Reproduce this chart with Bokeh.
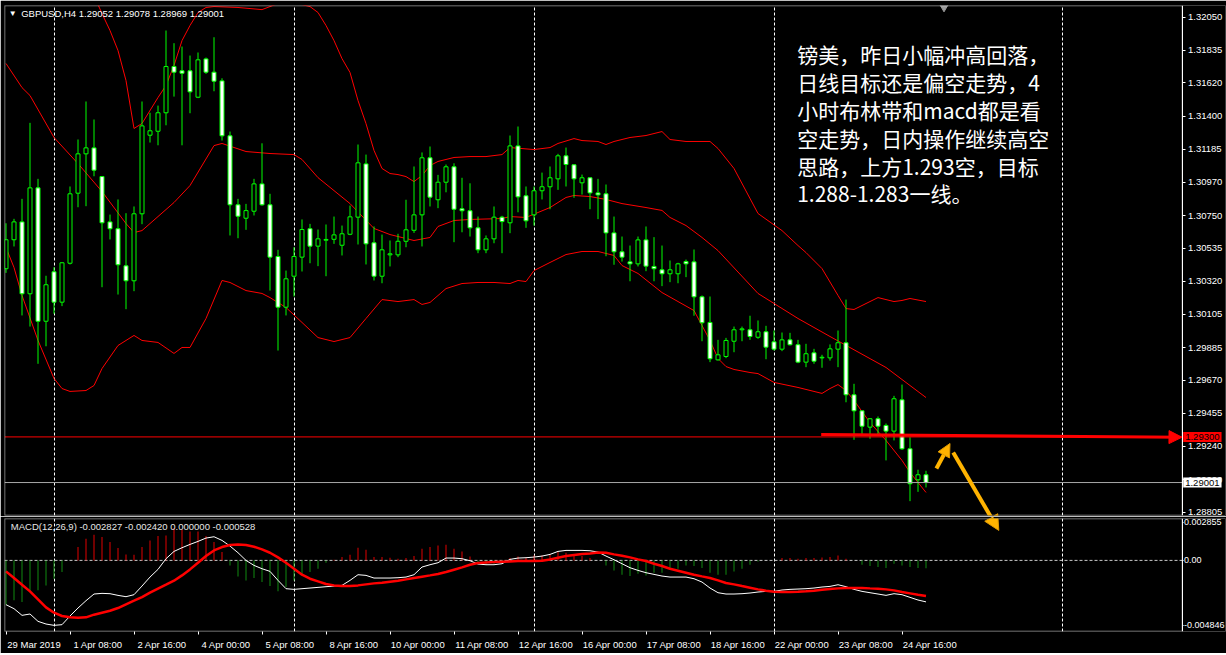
import numpy as np
from bokeh.plotting import figure
from bokeh.layouts import column
from bokeh.models import (Range1d, FixedTicker, PrintfTickFormatter, Label, BoxAnnotation,
                          Arrow, NormalHead, Grid)
from bokeh.core.properties import value
from bokeh.embed import file_html
from bokeh.resources import INLINE

# ---------------- data (GBPUSD H4, bar 0 = 29 Mar 2019 00:00) ----------------
bar_open = [1.30402, 1.30592, 1.30709, 1.30238, 1.30932, 1.30058, 1.30382, 1.30183, 1.30438, 1.30897,
            1.31155, 1.31194, 1.31006, 1.30709, 1.30664, 1.30421, 1.30323, 1.30762, 1.31277, 1.31303,
            1.31424, 1.31727, 1.31699, 1.31699, 1.31526, 1.31777, 1.31690, 1.31633, 1.31273, 1.30821,
            1.30733, 1.30779, 1.30958, 1.30821, 1.30482, 1.30150, 1.30353, 1.30478, 1.30664, 1.30550,
            1.30589, 1.30595, 1.30556, 1.30628, 1.30740, 1.31089, 1.30572, 1.30353, 1.30493, 1.30493,
            1.30582, 1.30654, 1.30755, 1.31129, 1.30854, 1.30969, 1.31070, 1.30795, 1.30782, 1.30670,
            1.30526, 1.30598, 1.30740, 1.30703, 1.31207, 1.30880, 1.30755, 1.30913, 1.30939, 1.30991,
            1.31142, 1.31083, 1.30965, 1.30998, 1.30899, 1.30893, 1.30637, 1.30513, 1.30447, 1.30434,
            1.30591, 1.30417, 1.30395, 1.30369, 1.30369, 1.30449, 1.30447, 1.30218, 1.30050, 1.29805,
            1.29827, 1.29927, 1.30002, 1.30002, 1.29953, 1.29989, 1.29923, 1.29875, 1.29936, 1.29904,
            1.29790, 1.29851, 1.29818, 1.29818, 1.29875, 1.29917, 1.29576, 1.29471, 1.29364, 1.29419,
            1.29375, 1.29338, 1.29543, 1.29222, 1.29019, 1.29052]
bar_high = [1.30700, 1.30729, 1.30860, 1.31358, 1.30991, 1.30356, 1.30412, 1.30445, 1.30941, 1.31249,
            1.31498, 1.31380, 1.31010, 1.30757, 1.30856, 1.30766, 1.30810, 1.31498, 1.31424, 1.31471,
            1.31963, 1.31880, 1.31858, 1.31799, 1.31819, 1.31786, 1.31919, 1.31650, 1.31301, 1.30860,
            1.30827, 1.30991, 1.31224, 1.30893, 1.30526, 1.30390, 1.30543, 1.30725, 1.30696, 1.30659,
            1.30692, 1.30744, 1.30685, 1.30816, 1.31216, 1.31150, 1.30679, 1.30626, 1.30587, 1.30631,
            1.30854, 1.31072, 1.31164, 1.31203, 1.31017, 1.31085, 1.31093, 1.30998, 1.30962, 1.30744,
            1.30620, 1.30810, 1.30749, 1.31275, 1.31334, 1.30941, 1.30941, 1.31032, 1.31072, 1.31155,
            1.31196, 1.31085, 1.31019, 1.31000, 1.30991, 1.30954, 1.30744, 1.30613, 1.30554, 1.30613,
            1.30679, 1.30609, 1.30554, 1.30456, 1.30441, 1.30462, 1.30528, 1.30227, 1.30220, 1.29936,
            1.29949, 1.30023, 1.30023, 1.30094, 1.30063, 1.30028, 1.29997, 1.29984, 1.29982, 1.29936,
            1.29910, 1.29877, 1.29838, 1.29906, 1.29997, 1.30200, 1.29648, 1.29473, 1.29421, 1.29434,
            1.29388, 1.29569, 1.29643, 1.29298, 1.29085, 1.29078]
bar_low = [1.30375, 1.30548, 1.30096, 1.30023, 1.29779, 1.29894, 1.30107, 1.30157, 1.30430, 1.30805,
           1.30812, 1.31008, 1.30281, 1.30594, 1.30233, 1.30137, 1.30255, 1.30694, 1.31229, 1.31211,
           1.31342, 1.31530, 1.31211, 1.31421, 1.31520, 1.31679, 1.31565, 1.31242, 1.30620, 1.30602,
           1.30657, 1.30751, 1.30815, 1.30259, 1.29866, 1.30096, 1.30220, 1.30384, 1.30438, 1.30419,
           1.30353, 1.30565, 1.30489, 1.30622, 1.30561, 1.30430, 1.30325, 1.30307, 1.30417, 1.30478,
           1.30543, 1.30637, 1.30548, 1.30810, 1.30799, 1.30903, 1.30576, 1.30641, 1.30613, 1.30504,
           1.30504, 1.30569, 1.30504, 1.30635, 1.30772, 1.30670, 1.30685, 1.30856, 1.30792, 1.30919,
           1.30941, 1.30867, 1.30888, 1.30792, 1.30727, 1.30484, 1.30428, 1.30449, 1.30320, 1.30417,
           1.30386, 1.30320, 1.30288, 1.30314, 1.30307, 1.30347, 1.30094, 1.29927, 1.29790, 1.29800,
           1.29816, 1.29855, 1.29927, 1.29936, 1.29943, 1.29809, 1.29866, 1.29862, 1.29899, 1.29783,
           1.29757, 1.29779, 1.29753, 1.29800, 1.29757, 1.29527, 1.29281, 1.29320, 1.29288, 1.29307,
           1.29146, 1.29277, 1.29215, 1.28879, 1.28940, 1.28969]
bar_close = [1.30592, 1.30709, 1.30238, 1.30932, 1.30058, 1.30297, 1.30183, 1.30441, 1.30893, 1.31155,
             1.31194, 1.31048, 1.30703, 1.30664, 1.30428, 1.30323, 1.30762, 1.31338, 1.31306, 1.31424,
             1.31727, 1.31690, 1.31683, 1.31561, 1.31771, 1.31690, 1.31631, 1.31273, 1.30821, 1.30746,
             1.30783, 1.30958, 1.30821, 1.30478, 1.30150, 1.30336, 1.30482, 1.30659, 1.30550, 1.30598,
             1.30594, 1.30624, 1.30631, 1.30742, 1.31096, 1.30565, 1.30353, 1.30526, 1.30500, 1.30582,
             1.30657, 1.30755, 1.31129, 1.30871, 1.30969, 1.31070, 1.30792, 1.30782, 1.30670, 1.30526,
             1.30598, 1.30740, 1.30711, 1.31207, 1.30873, 1.30716, 1.30913, 1.30939, 1.30998, 1.31142,
             1.31085, 1.30991, 1.30998, 1.30899, 1.30886, 1.30637, 1.30513, 1.30478, 1.30434, 1.30591,
             1.30419, 1.30402, 1.30369, 1.30395, 1.30434, 1.30434, 1.30218, 1.30048, 1.29812, 1.29838,
             1.29932, 1.30002, 1.30008, 1.29958, 1.29989, 1.29888, 1.29875, 1.29936, 1.29904, 1.29790,
             1.29845, 1.29796, 1.29822, 1.29877, 1.29917, 1.29576, 1.29471, 1.29370, 1.29419, 1.29370,
             1.29338, 1.29550, 1.29222, 1.28993, 1.29052, 1.29001]

# Bollinger bands (bar index, price), read where the red curves are visible
bb_upper_x = [0, 6, 9, 11, 12, 13, 14, 15, 16, 17, 19, 20, 21, 22, 23, 24, 25, 26, 29, 32,
              34, 36, 37, 38, 39, 40, 41, 42, 43, 44, 45, 46, 47, 48, 49, 50, 51, 52, 53, 54,
              56, 58, 60, 62, 63, 66, 68, 69, 71, 72, 74, 75, 76, 78, 80, 82, 83, 85, 88, 89,
              91, 94, 97, 99, 100, 102, 104, 105, 106, 107, 109, 111, 112, 113, 115]
bb_upper_y = [1.32952, 1.32828, 1.32579, 1.32192, 1.32074, 1.31963, 1.31832, 1.31635, 1.31321, 1.31354,
              1.31524, 1.31603, 1.31734, 1.31897, 1.31996, 1.32081, 1.32114, 1.32120, 1.32114, 1.32100,
              1.32140, 1.32153, 1.32133, 1.32120, 1.32081, 1.31996, 1.31897, 1.31779, 1.31688, 1.31504,
              1.31353, 1.31177, 1.31059, 1.31026, 1.31019, 1.31006, 1.30973, 1.31013, 1.31078, 1.31105,
              1.31131, 1.31137, 1.31137, 1.31150, 1.31196, 1.31183, 1.31196, 1.31223, 1.31255, 1.31242,
              1.31236, 1.31216, 1.31236, 1.31262, 1.31275, 1.31301, 1.31249, 1.31236, 1.31236, 1.31190,
              1.31059, 1.30764, 1.30652, 1.30554, 1.30508, 1.30403, 1.30227, 1.30141, 1.30135, 1.30161,
              1.30213, 1.30187, 1.30194, 1.30207, 1.30187]
bb_mid_x = [0, 2, 3, 6, 9, 12, 15, 16, 17, 21, 23, 26, 27, 30, 33, 36, 37, 39, 43, 46,
            48, 51, 53, 54, 56, 58, 62, 63, 65, 68, 70, 71, 73, 75, 77, 80, 82, 83, 85, 87,
            89, 94, 99, 103, 110, 115]
bb_mid_y = [1.31747, 1.31589, 1.31537, 1.31262, 1.31091, 1.30908, 1.30698, 1.30639, 1.30652, 1.30836,
            1.30947, 1.31209, 1.31223, 1.31170, 1.31157, 1.31150, 1.31118, 1.30999, 1.30829, 1.30666,
            1.30626, 1.30587, 1.30607, 1.30679, 1.30718, 1.30725, 1.30731, 1.30744, 1.30738, 1.30803,
            1.30869, 1.30882, 1.30875, 1.30856, 1.30829, 1.30803, 1.30784, 1.30738, 1.30685, 1.30607,
            1.30521, 1.30240, 1.30076, 1.29958, 1.29755, 1.29558]
bb_lower_x = [0, 1, 2, 4, 6, 7, 8, 10, 11, 12, 14, 16, 17, 19, 21, 22, 23, 25, 27, 28,
              30, 32, 33, 35, 37, 39, 41, 43, 45, 47, 49, 51, 52, 53, 55, 57, 59, 61, 63, 64,
              65, 66, 68, 70, 72, 74, 76, 77, 79, 82, 84, 86, 87, 88, 89, 90, 91, 93, 94, 96,
              99, 102, 103, 104, 105, 106, 108, 110, 112, 113, 115]
bb_lower_y = [1.30541, 1.30410, 1.30227, 1.29932, 1.29683, 1.29617, 1.29598, 1.29604, 1.29637, 1.29748,
              1.29899, 1.29965, 1.29932, 1.29919, 1.29847, 1.29886, 1.29886, 1.30076, 1.30325, 1.30312,
              1.30259, 1.30240, 1.30213, 1.30148, 1.30050, 1.29951, 1.29925, 1.29951, 1.30076, 1.30200,
              1.30187, 1.30200, 1.30168, 1.30181, 1.30272, 1.30305, 1.30312, 1.30312, 1.30305, 1.30325,
              1.30318, 1.30390, 1.30443, 1.30495, 1.30515, 1.30515, 1.30489, 1.30423, 1.30371, 1.30246,
              1.30187, 1.30128, 1.30030, 1.29932, 1.29814, 1.29761, 1.29742, 1.29722, 1.29715, 1.29657,
              1.29624, 1.29585, 1.29617, 1.29643, 1.29604, 1.29539, 1.29394, 1.29277, 1.29146, 1.29067,
              1.28936]

# MACD(12,26,9) pane
macd_line = [-0.003018, -0.003291, -0.003746, -0.003654, -0.004154, -0.004336, -0.004427, -0.004381, -0.003790, -0.003246,
             -0.002747, -0.002292, -0.002247, -0.002270, -0.002384, -0.002474, -0.002338, -0.001748, -0.001135, -0.000613,
             0.000114, 0.000613, 0.000862, 0.001090, 0.001294, 0.001521, 0.001612, 0.001362, 0.000976, 0.000522,
             0.000000, -0.000341, -0.000568, -0.000749, -0.001362, -0.001929, -0.001975, -0.001929, -0.001884, -0.001839,
             -0.001793, -0.001748, -0.001703, -0.001362, -0.000976, -0.001022, -0.001203, -0.001203, -0.001203, -0.001180,
             -0.001135, -0.000976, -0.000454, -0.000295, -0.000159, 0.000159, 0.000159, 0.000114, -0.000023, -0.000250,
             -0.000295, -0.000295, -0.000227, 0.000068, 0.000159, 0.000182, 0.000227, 0.000295, 0.000409, 0.000613,
             0.000681, 0.000681, 0.000681, 0.000658, 0.000568, 0.000295, 0.000045, -0.000227, -0.000500, -0.000681,
             -0.000840, -0.000953, -0.001067, -0.001135, -0.001135, -0.001135, -0.001249, -0.001476, -0.001884, -0.002202,
             -0.002292, -0.002292, -0.002270, -0.002224, -0.002156, -0.002111, -0.002111, -0.002020, -0.001975, -0.001952,
             -0.001929, -0.001884, -0.001815, -0.001771, -0.001658, -0.001793, -0.001975, -0.002111, -0.002202, -0.002292,
             -0.002384, -0.002270, -0.002338, -0.002520, -0.002701, -0.002827]
macd_signal = [-0.000749, -0.001203, -0.001658, -0.002111, -0.002656, -0.003201, -0.003564, -0.003790, -0.003882, -0.003904,
               -0.003882, -0.003700, -0.003564, -0.003428, -0.003246, -0.002996, -0.002747, -0.002497, -0.002202, -0.001929,
               -0.001658, -0.001385, -0.001022, -0.000613, -0.000159, 0.000295, 0.000681, 0.000908, 0.001044, 0.001090,
               0.001044, 0.000930, 0.000749, 0.000522, 0.000204, -0.000159, -0.000568, -0.000976, -0.001249, -0.001430,
               -0.001612, -0.001703, -0.001748, -0.001748, -0.001703, -0.001634, -0.001566, -0.001521, -0.001453, -0.001385,
               -0.001294, -0.001203, -0.001113, -0.001022, -0.000930, -0.000794, -0.000636, -0.000477, -0.000295, -0.000182,
               -0.000136, -0.000114, -0.000091, -0.000068, -0.000045, -0.000045, -0.000045, -0.000023, 0.000068, 0.000182,
               0.000295, 0.000363, 0.000431, 0.000477, 0.000545, 0.000522, 0.000409, 0.000318, 0.000204, 0.000068,
               -0.000045, -0.000227, -0.000386, -0.000568, -0.000704, -0.000840, -0.000976, -0.001090, -0.001203, -0.001362,
               -0.001544, -0.001634, -0.001748, -0.001861, -0.001975, -0.002066, -0.002134, -0.002156, -0.002156, -0.002134,
               -0.002111, -0.002066, -0.001997, -0.001952, -0.001907, -0.001884, -0.001884, -0.001884, -0.001907, -0.001929,
               -0.001975, -0.002043, -0.002156, -0.002247, -0.002338, -0.002420]
macd_hist = [-0.003018, -0.002724, -0.002837, -0.002156, -0.002043, -0.001703, -0.001249, -0.000794, 0.000000, 0.000908,
             0.001476, 0.001748, 0.001589, 0.001249, 0.000840, 0.000409, 0.000386, 0.000908, 0.001362, 0.001658,
             0.001703, 0.002202, 0.002111, 0.001975, 0.001975, 0.001658, 0.001249, 0.000568, -0.000341, -0.001090,
             -0.001362, -0.001203, -0.001476, -0.001748, -0.002111, -0.001815, -0.001362, -0.001022, -0.000794, -0.000568,
             -0.000159, 0.000045, 0.000227, 0.000386, 0.000862, 0.000727, 0.000227, 0.000227, 0.000182, 0.000114,
             0.000159, 0.000295, 0.000794, 0.000908, 0.001022, 0.001067, 0.000794, 0.000613, 0.000272, -0.000114,
             -0.000272, -0.000227, -0.000114, 0.000159, 0.000272, 0.000159, 0.000341, 0.000341, 0.000386, 0.000613,
             0.000522, 0.000386, 0.000295, 0.000159, 0.000000, -0.000341, -0.000681, -0.000976, -0.001067, -0.000908,
             -0.001022, -0.000840, -0.000840, -0.000613, -0.000568, -0.000341, -0.000386, -0.000522, -0.000840, -0.000976,
             -0.000976, -0.000749, -0.000568, -0.000295, -0.000068, 0.000000, 0.000000, 0.000159, 0.000159, 0.000114,
             0.000159, 0.000159, 0.000204, 0.000227, 0.000341, 0.000114, 0.000000, -0.000295, -0.000386, -0.000454,
             -0.000522, -0.000227, -0.000341, -0.000454, -0.000522, -0.000528]

# axes / ticks
price_ticks = [1.32050, 1.31835, 1.31620, 1.31400, 1.31185, 1.30970, 1.30750, 1.30535, 1.30320,
               1.30105, 1.29885, 1.29670, 1.29455, 1.29240, 1.29020, 1.28805]
macd_tick_pos = [0.002588, 0.0, -0.004427]
macd_tick_labels = ["0.002855", "0.00", "-0.004846"]
time_tick_pos = [0, 8, 16, 24, 32, 40, 48, 56, 64, 72, 80, 88, 96, 104, 112]
time_tick_labels = ["29 Mar 2019", "1 Apr 08:00", "2 Apr 16:00", "4 Apr 00:00", "5 Apr 08:00",
                    "8 Apr 16:00", "10 Apr 00:00", "11 Apr 08:00", "12 Apr 16:00", "16 Apr 00:00",
                    "17 Apr 08:00", "18 Apr 16:00", "22 Apr 00:00", "23 Apr 08:00", "24 Apr 16:00"]
week_grid_pos = [6, 36, 66, 96, 132]

# annotations
sell_level = 1.29300
last_price = 1.29001
header_text = "GBPUSD,H4  1.29052 1.29078 1.28969 1.29001"
macd_header = "MACD(12,26,9) -0.002827 -0.002420 0.000000 -0.000528"
info_lines = ["镑美，昨日小幅冲高回落，", "日线目标还是偏空走势，4", "小时布林带和macd都是看",
              "空走势，日内操作继续高空", "思路，上方1.293空，目标", "1.288-1.283一线。"]
info_x = 98.9
info_y = [1.31806, 1.31624, 1.31443, 1.31260, 1.31078, 1.30897]
red_arrow = dict(x0=101.9, y0=1.29316, x1=147.0, y1=1.29298)
up_arrow = dict(x0=116.3, y0=1.29093, x1=118.0, y1=1.29257)
down_arrow_price = dict(x0=118.4, y0=1.29198, x1=124.1, y1=1.28687)
down_arrow_macd = dict(x0=118.4, y0=0.007355, x1=124.1, y1=0.002043)
shift_marker_x = 117.25

# ---------------- layout constants (pixels and ranges) ----------------
BAR_PX = 8.0
FRAME_W = 1221
MAIN_H, MACD_H = 510, 113
X_START = -0.1875                         # bar centres fall on pixel centres
X_AXIS = X_START + 1177.5 / BAR_PX        # where the price scale sits (right edge of the chart area)
X_END = X_START + FRAME_W / BAR_PX
PRICE_MIN, PRICE_MAX = 1.28785, 1.32127
MACD_MIN, MACD_MAX = -0.004846, 0.002855
LABEL_SHIFT = 3.5                          # MT4 writes the time label to the right of its tick

FONT = "Liberation Sans"
FS = "9.5px"
FS_MACD = "9px"
LIME = "#00ff00"
RED = "#ff0000"
HIST_UP = "#e00000"
HIST_DN = "#108a10"
GOLD = "#ffb300"
GOLD_EDGE = "#e09a00"

# ---------------- main price pane ----------------
idx = list(range(len(bar_open)))
body_top = [max(a, b) for a, b in zip(bar_open, bar_close)]
body_bot = [min(a, b) for a, b in zip(bar_open, bar_close)]
body_fill = ["black" if cl >= op else "white" for op, cl in zip(bar_open, bar_close)]

xr = Range1d(X_START, X_END)
p1 = figure(frame_width=FRAME_W, frame_height=MAIN_H, x_range=xr, y_range=Range1d(PRICE_MIN, PRICE_MAX),
            x_axis_location=None, y_axis_location="right", toolbar_location=None,
            output_backend="svg", min_border_left=4, min_border_top=5, min_border_bottom=1,
            min_border_right=1, background_fill_color="black", border_fill_color="black",
            outline_line_color=None)
p1.xgrid.visible = False
p1.ygrid.visible = False
p1.add_layout(Grid(dimension=0, ticker=FixedTicker(ticks=week_grid_pos), grid_line_color="white",
                   grid_line_dash="3 2", grid_line_width=1))

ppx = (PRICE_MAX - PRICE_MIN) / MAIN_H
p1.add_layout(BoxAnnotation(left=X_START + 0.5 / BAR_PX, right=X_AXIS, top=PRICE_MAX - 0.5 * ppx,
                            bottom=PRICE_MIN + 0.5 * ppx, fill_alpha=0, line_color="white", line_width=1))

p1.line(bb_upper_x, bb_upper_y, line_color=RED, line_width=1)
p1.line(bb_mid_x, bb_mid_y, line_color=RED, line_width=1)
p1.line(bb_lower_x, bb_lower_y, line_color=RED, line_width=1)

p1.segment(x0=idx, y0=bar_low, x1=idx, y1=bar_high, line_color=LIME, line_width=1)
p1.vbar(x=idx, width=0.5, top=body_top, bottom=body_bot, fill_color=body_fill,
        line_color=LIME, line_width=1)

p1.segment(x0=[X_START, X_START], x1=[X_AXIS, X_AXIS], y0=[sell_level, last_price],
           y1=[sell_level, last_price], line_color=[RED, "#a8a8a8"], line_width=1)

p1.add_layout(Arrow(end=NormalHead(size=13, fill_color=RED, line_color=RED),
                    x_start=red_arrow["x0"], y_start=red_arrow["y0"],
                    x_end=red_arrow["x1"], y_end=red_arrow["y1"], line_color=RED, line_width=3))
p1.add_layout(Arrow(end=NormalHead(size=13, fill_color=GOLD, line_color=GOLD_EDGE),
                    x_start=up_arrow["x0"], y_start=up_arrow["y0"],
                    x_end=up_arrow["x1"], y_end=up_arrow["y1"], line_color=GOLD, line_width=4))
p1.add_layout(Arrow(end=NormalHead(size=15, fill_color=GOLD, line_color=GOLD_EDGE),
                    x_start=down_arrow_price["x0"], y_start=down_arrow_price["y0"],
                    x_end=down_arrow_price["x1"], y_end=down_arrow_price["y1"],
                    line_color=GOLD, line_width=4))

p1.text(x=[info_x] * len(info_lines), y=info_y, text=info_lines,
        text_font=value("Noto Sans CJK SC"), text_font_size="21px", text_color="white",
        text_baseline="middle", text_align="left")

p1.scatter(x=[shift_marker_x], y=[PRICE_MAX], marker="inverted_triangle", size=11,
           fill_color="#9a9a9a", line_color="#9a9a9a")

p1.add_layout(Label(x=0.35, y=1.32077, text="▼", text_font=FONT, text_font_size="8px",
                    text_color="white", text_baseline="middle", text_align="left"))
p1.add_layout(Label(x=1.9, y=1.32077, text=header_text, text_font=FONT, text_font_size=FS,
                    text_color="white", text_baseline="middle", text_align="left"))

# price-axis boxes
p1.add_layout(Label(x=X_AXIS + 0.15, y=sell_level, text="1.29300", text_font=FONT,
                    text_font_size=FS, text_color="black", text_baseline="middle",
                    text_align="left", background_fill_color=RED, padding=2))
p1.add_layout(Label(x=X_AXIS + 0.15, y=last_price, text="1.29001", text_font=FONT,
                    text_font_size=FS, text_color="black", text_baseline="middle",
                    text_align="left", background_fill_color="white", padding=2))

ay = p1.yaxis[0]
ay.fixed_location = X_AXIS
ay.ticker = FixedTicker(ticks=price_ticks)
ay.formatter = PrintfTickFormatter(format="%.5f")
ay.axis_line_color = "white"
ay.major_tick_line_color = "white"
ay.major_tick_out = 3
ay.major_tick_in = 0
ay.minor_tick_line_color = None
ay.major_label_standoff = 3
ay.major_label_text_color = "white"
ay.major_label_text_font = FONT
ay.major_label_text_font_size = FS

# ---------------- MACD pane ----------------
p2 = figure(frame_width=FRAME_W, frame_height=MACD_H, x_range=xr, y_range=Range1d(MACD_MIN, MACD_MAX),
            y_axis_location="right", toolbar_location=None, output_backend="svg",
            min_border_left=4, min_border_top=2, min_border_bottom=22, min_border_right=1,
            background_fill_color="black", border_fill_color="black", outline_line_color=None)
p2.xgrid.visible = False
p2.ygrid.visible = False
p2.add_layout(Grid(dimension=0, ticker=FixedTicker(ticks=week_grid_pos), grid_line_color="white",
                   grid_line_dash="3 2", grid_line_width=1))

mpx = (MACD_MAX - MACD_MIN) / MACD_H
p2.add_layout(BoxAnnotation(left=X_START + 0.5 / BAR_PX, right=X_AXIS, top=MACD_MAX - 0.5 * mpx,
                            bottom=MACD_MIN + 0.5 * mpx, fill_alpha=0, line_color="white", line_width=1))
p2.segment(x0=[X_START], x1=[X_AXIS], y0=[0.0], y1=[0.0], line_color="#c8c8c8",
           line_width=1, line_dash="3 2")

hist_top = [max(v, 0.0) for v in macd_hist]
hist_bot = [min(v, 0.0) for v in macd_hist]
hist_colors = [HIST_UP if v >= 0 else HIST_DN for v in macd_hist]
p2.vbar(x=idx, width=1.0 / BAR_PX, top=hist_top, bottom=hist_bot, fill_color=hist_colors,
        line_color=None)
p2.line(idx, macd_line, line_color="white", line_width=1)
p2.line(idx, macd_signal, line_color=RED, line_width=2.5)

p2.add_layout(Arrow(end=NormalHead(size=15, fill_color=GOLD, line_color=GOLD_EDGE),
                    x_start=down_arrow_macd["x0"], y_start=down_arrow_macd["y0"],
                    x_end=down_arrow_macd["x1"], y_end=down_arrow_macd["y1"],
                    line_color=GOLD, line_width=4))

p2.add_layout(Label(x=0.6, y=0.00233, text=macd_header, text_font=FONT, text_font_size=FS,
                    text_color="#e6e6e6", text_baseline="middle", text_align="left"))

ay2 = p2.yaxis[0]
ay2.fixed_location = X_AXIS
ay2.ticker = FixedTicker(ticks=macd_tick_pos)
ay2.major_label_overrides = dict(zip(macd_tick_pos, macd_tick_labels))
ay2.axis_line_color = "white"
ay2.major_tick_line_color = "white"
ay2.major_tick_out = 1
ay2.major_tick_in = 0
ay2.minor_tick_line_color = None
ay2.major_label_standoff = 1
ay2.major_label_text_color = "white"
ay2.major_label_text_font = FONT
ay2.major_label_text_font_size = FS_MACD

label_centers = [t + LABEL_SHIFT for t in time_tick_pos]
ax2 = p2.xaxis[0]
ax2.ticker = FixedTicker(ticks=label_centers, minor_ticks=time_tick_pos)
ax2.major_label_overrides = dict(zip(label_centers, time_tick_labels))
ax2.axis_line_color = None
ax2.major_tick_line_color = None
ax2.major_tick_out = 0
ax2.major_tick_in = 0
ax2.minor_tick_line_color = "white"
ax2.minor_tick_out = 3
ax2.minor_tick_in = 0
ax2.major_label_standoff = 4
ax2.major_label_text_color = "white"
ax2.major_label_text_font = FONT
ax2.major_label_text_font_size = FS

layout = column(p1, p2)
open("out.html", "w").write(file_html(layout, INLINE, title="GBPUSD H4"))
